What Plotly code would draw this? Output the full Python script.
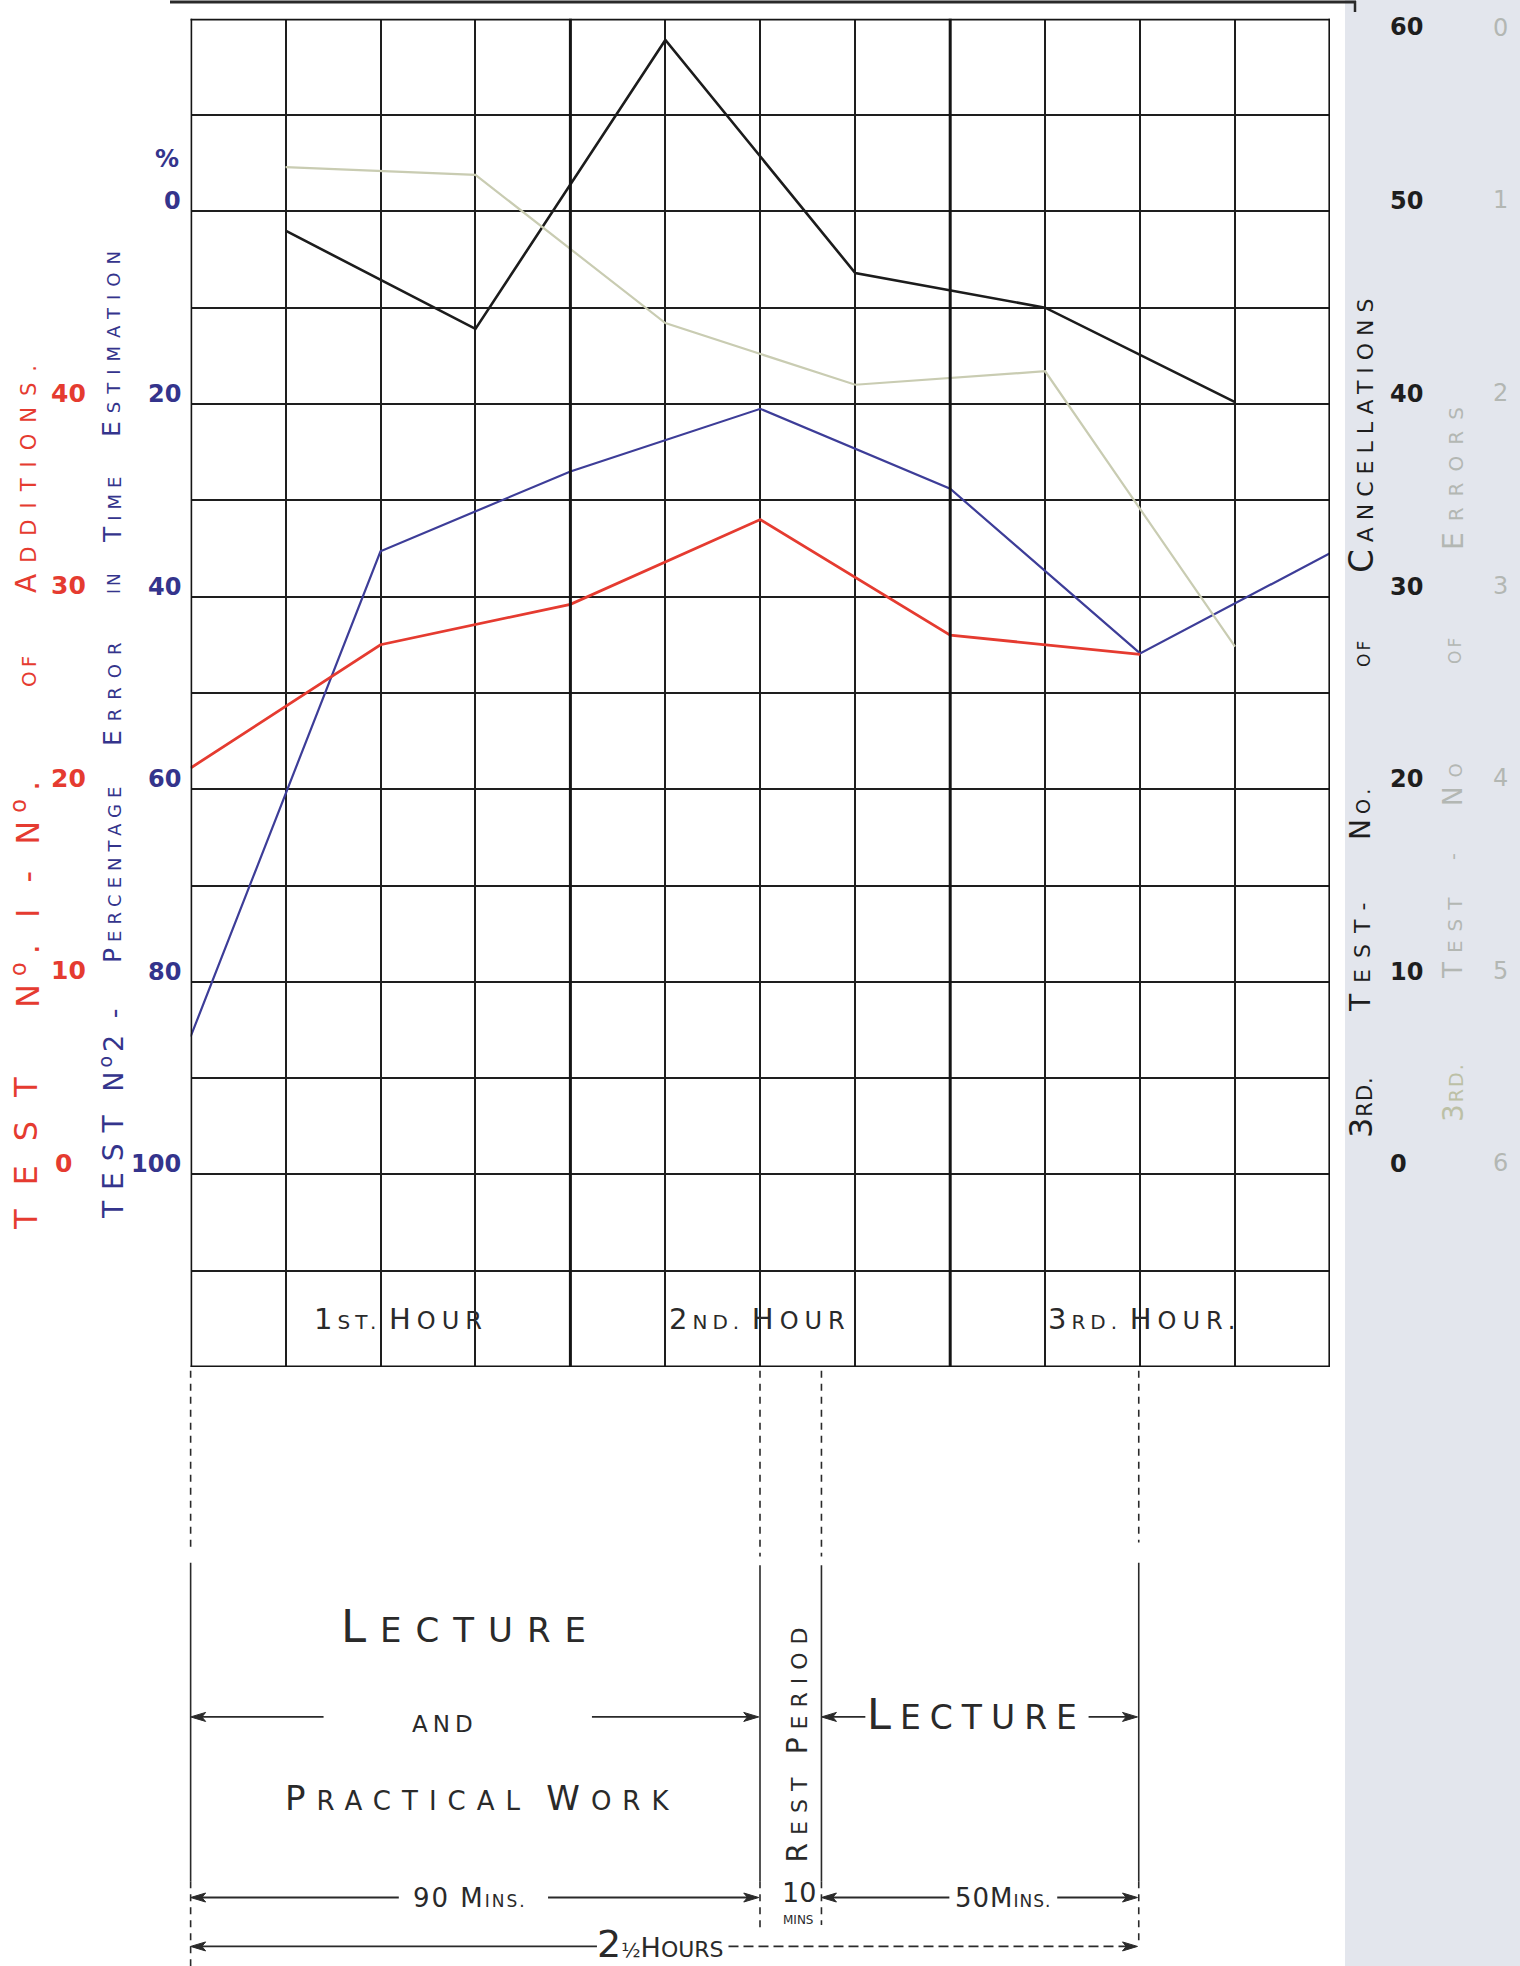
import plotly.graph_objects as go

W, H = 1520, 1966

# ---------------- data ----------------
# x positions are in grid columns (12 columns across the 2 1/2 hours)
cols_test1 = [0, 2, 4, 6, 8, 10]
test1_additions = [21.1, 27.5, 29.6, 34.0, 28.0, 27.0]

cols_test2 = [0, 2, 4, 6, 8, 10, 12]
test2_pct_error = [85.7, 35.3, 27.0, 20.5, 28.8, 45.9, 35.5]

cols_test3 = [1, 3, 5, 7, 9, 11]
test3_cancellations = [49.0, 43.9, 58.9, 46.8, 45.0, 40.1]
test3_errors = [0.77, 0.81, 1.58, 1.90, 1.83, 3.26]

ticks_test1 = [0, 10, 20, 30, 40]
ticks_test2 = [0, 20, 40, 60, 80, 100]
ticks_cancel = [0, 10, 20, 30, 40, 50, 60]
ticks_errors = [0, 1, 2, 3, 4, 5, 6]

hour_cols = [2.22, 6.0, 10.05]
hour_names = [("1", "ST.", "H", "OUR"), ("2", "ND.", "H", "OUR"), ("3", "RD.", "H", "OUR.")]

# ---------------- styles ----------------
INK = "#2a2a2a"
RED = "#e53b30"
BLUE = "#34348c"
BLUE_LINE = "#3d3d98"
GREY_LINE = "#c9ccb2"
GREY_TXT = "#b3b7b3"
STRIP = "#e3e6ed"
FONT = "DejaVu Sans"

# figure-pixel helpers (sketch measured in a 1212 x 1568 view and in 1520 x 1966 pixels)
def P(xd, yd):
    return xd / 1212.0, 1 - yd / 1567.6


def Q(xo, yo):
    return xo / W, 1 - yo / H


X0, X1 = 190.6 / W, 1330.0 / W
Y0, Y1 = 1 - 1367.0 / H, 1 - 18.8 / H


def sc(word, big, small, ls=0, big_n=1):
    st = f"letter-spacing:{ls}px;" if ls else ""
    a, b = word[:big_n], word[big_n:]
    s = f"<span style='font-size:{big}px;{st}'>{a}</span>"
    if b:
        s += f"<span style='font-size:{small}px;{st}'>{b}</span>"
    return s


annotations = []
shapes = []


def text_at(text, x, y, size=24, color=INK, angle=0, xanchor="center", yanchor="middle", bold=False):
    annotations.append(dict(text=text, x=x, y=y, xref="paper", yref="paper", showarrow=False,
                            textangle=angle, xanchor=xanchor, yanchor=yanchor,
                            font=dict(family=FONT, size=size, color=color,
                                      weight="bold" if bold else "normal")))


def arrow(xh, yh, xt, yt, dash="solid"):
    """horizontal arrow: head at (xh, yh), tail at (xt, yt), sketch units"""
    hx, hy = P(xh, yh)
    tx, ty = P(xt, yt)
    sgn = 1 if xt > xh else -1
    L, hw = 15.0 / W, 4.5 / H
    shapes.append(dict(type="line", xref="paper", yref="paper", x0=hx + sgn * L * 0.6, x1=tx,
                       y0=hy, y1=ty, line=dict(color=INK, width=1.8, dash=dash)))
    path = (f"M {hx} {hy} L {hx + sgn * L} {hy + hw} L {hx + sgn * L * 0.75} {hy} "
            f"L {hx + sgn * L} {hy - hw} Z")
    shapes.append(dict(type="path", xref="paper", yref="paper", path=path,
                       fillcolor=INK, line=dict(color=INK, width=1)))


fig = go.Figure()

fig.add_trace(go.Scatter(x=cols_test3, y=test3_errors, yaxis="y4", mode="lines",
                         line=dict(color=GREY_LINE, width=2.2), name="3rd Test - No. of Errors"))
fig.add_trace(go.Scatter(x=cols_test3, y=test3_cancellations, yaxis="y3", mode="lines",
                         line=dict(color="#1c1c1c", width=2.6), name="3rd Test - No. of Cancellations"))
fig.add_trace(go.Scatter(x=cols_test2, y=test2_pct_error, yaxis="y", mode="lines",
                         line=dict(color=BLUE_LINE, width=2.2), name="Test No 2 - % Error"))
fig.add_trace(go.Scatter(x=cols_test1, y=test1_additions, yaxis="y2", mode="lines",
                         line=dict(color=RED, width=2.8), name="Test No 1 - No. of Additions"))

# ---------------- tick labels (placed on each test's own scale) ----------------
for v in ticks_test2:
    annotations.append(dict(text=str(v), x=183 / W, y=v, xref="paper", yref="y", showarrow=False,
                            xanchor="right", yanchor="middle", yshift=10,
                            font=dict(family=FONT, size=24, color=BLUE, weight="bold")))
for v in ticks_test1:
    annotations.append(dict(text=str(v), x=(88 if v else 74) / W, y=v, xref="paper", yref="y2",
                            showarrow=False, xanchor="right", yanchor="middle", yshift=11,
                            font=dict(family=FONT, size=25, color=RED, weight="bold")))
for v in ticks_cancel:
    annotations.append(dict(text=str(v), x=1388 / W, y=v, xref="paper", yref="y3", showarrow=False,
                            xanchor="left", yanchor="middle", yshift=(-8 if v == 60 else 10),
                            font=dict(family=FONT, size=24, color="#1e1e1e", weight="bold")))
for v in ticks_errors:
    annotations.append(dict(text=str(v), x=1500 / W, y=v, xref="paper", yref="y4", showarrow=False,
                            xanchor="center", yanchor="middle", yshift=(-9 if v == 0 else 11),
                            font=dict(family=FONT, size=24, color=GREY_TXT)))

# "%" above the 0 of test 2
text_at("%", *Q(167, 159), size=24, color=BLUE, bold=True)

# ---------------- axis titles (rotated lettering) ----------------
# Test No 1 (red)
text_at(sc("TEST", 32, 32, 24), *Q(26, 1142), color=RED, angle=-90)
text_at(f"<span style='font-size:32px;letter-spacing:8px'>N<sup>o</sup>. I - N<sup>o</sup>.</span>",
        *Q(26, 891), color=RED, angle=-90)
text_at(sc("OF", 20, 20, 4), *Q(29, 670), color=RED, angle=-90)
text_at(sc("ADDITIONS.", 28, 21, 11), *Q(26, 474), color=RED, angle=-90)

# Test No 2 (blue)
text_at(sc("TEST", 28, 28, 11) + f"<span style='font-size:27px;letter-spacing:4px'> N<sup>o</sup>2 -</span>",
        *Q(112, 1111), color=BLUE, angle=-90)
text_at(sc("PERCENTAGE", 25, 18, 6), *Q(112, 872), color=BLUE, angle=-90)
text_at(sc("ERROR", 25, 18, 9), *Q(112, 689), color=BLUE, angle=-90)
text_at(sc("IN", 17, 17, 3), *Q(114, 582), color=BLUE, angle=-90)
text_at(sc("TIME", 25, 18, 6), *Q(112, 506), color=BLUE, angle=-90)
text_at(sc("ESTIMATION", 25, 18, 8), *Q(112, 340), color=BLUE, angle=-90)

# 3rd test - cancellations (black)
text_at(sc("3RD.", 32, 21, 1), *Q(1361, 1107), color="#1e1e1e", angle=-90)
text_at(sc("TEST-", 28, 22, 11), *Q(1361, 952), color="#1e1e1e", angle=-90)
text_at(sc("NO.", 28, 19, 5), *Q(1361, 812), color="#1e1e1e", angle=-90)
text_at(sc("OF", 17, 17, 3), *Q(1364, 653), color="#1e1e1e", angle=-90)
text_at(sc("CANCELLATIONS", 34, 22, 7), *Q(1361, 432), color="#1e1e1e", angle=-90)

# 3rd test - errors (pale)
text_at(sc("3RD.", 28, 19, 2), *Q(1453, 1092), color="#bcc0a6", angle=-90)
text_at(sc("TEST", 26, 20, 9), *Q(1453, 934), color=GREY_TXT, angle=-90)
text_at("-", *Q(1453, 857), size=19, color=GREY_TXT, angle=-90)
text_at(sc("NO", 26, 18, 9), *Q(1453, 780), color=GREY_TXT, angle=-90)
text_at(sc("OF", 17, 17, 3), *Q(1455, 650), color=GREY_TXT, angle=-90)
text_at(sc("ERRORS", 28, 20, 11), *Q(1453, 473), color=GREY_TXT, angle=-90)

# ---------------- hour labels in the bottom row ----------------
for c, (n, suf, h, rest) in zip(hour_cols, hour_names):
    annotations.append(dict(
        text=(f"<span style='font-size:29px;letter-spacing:5px'>{n}</span>"
              f"<span style='font-size:20px;letter-spacing:5px'>{suf}</span> "
              f"<span style='font-size:29px;letter-spacing:6px'>{h}</span>"
              f"<span style='font-size:24px;letter-spacing:6px'>{rest}</span>"),
        x=c, y=115, xref="x", yref="y", showarrow=False, xanchor="center", yanchor="middle",
        font=dict(family=FONT, size=24, color=INK)))

# ---------------- time-line annotations under the chart ----------------
text_at(sc("LECTURE", 45, 34, 14), *P(375, 1297))
text_at(sc("AND", 23, 23, 5), *P(355, 1375))
text_at(sc("PRACTICAL", 34, 26, 11) + "  " + sc("WORK", 34, 26, 11), *P(384, 1434))
text_at(sc("LECTURE", 43, 33, 9), *P(779, 1367))
text_at(sc("REST", 28, 22, 8) + "  " + sc("PERIOD", 28, 22, 8), *P(636, 1388), angle=-90)
text_at("<span style='font-size:26px;letter-spacing:2px'>90 M</span>"
        "<span style='font-size:17px;letter-spacing:2px'>INS.</span>", *P(375, 1513))
text_at("<span style='font-size:27px'>10</span>", *P(637, 1509))
text_at("<span style='font-size:12px'>MINS</span>", *P(637, 1531))
text_at("<span style='font-size:26px;letter-spacing:1px'>50M</span>"
        "<span style='font-size:17px;letter-spacing:1px'>INS.</span>", *P(800, 1513))
text_at("<span style='font-size:38px'>2</span><span style='font-size:20px'>½</span>"
        "<span style='font-size:27px'>H</span><span style='font-size:22px'>OURS</span>", *P(527, 1550))

arrow(152, 1369, 258, 1369)
arrow(605, 1369, 472, 1369)
arrow(655, 1369, 690, 1369)
arrow(907, 1369, 868, 1369)
arrow(152, 1513, 318, 1513)
arrow(605, 1513, 437, 1513)
arrow(655, 1513, 757, 1513)
arrow(907, 1513, 843, 1513)
arrow(152, 1552, 476, 1552)
arrow(907, 1552, 578, 1552, dash="10px,5px")

# pale strip of paper on the right
shapes.append(dict(type="rect", xref="paper", yref="paper", x0=1345 / W, x1=1.0, y0=0, y1=1,
                   fillcolor=STRIP, line=dict(width=0), layer="below"))
# frame line at the very top
shapes.append(dict(type="line", xref="paper", yref="paper", x0=170 / W, x1=1356 / W,
                   y0=1 - 2 / H, y1=1 - 2 / H, line=dict(color=INK, width=3)))
shapes.append(dict(type="line", xref="paper", yref="paper", x0=1355 / W, x1=1355 / W,
                   y0=1 - 1 / H, y1=1 - 12 / H, line=dict(color=INK, width=2.5)))
# heavy hour lines and chart border
for c, wdt in [(0, 3.2), (4, 3.0), (8, 3.0), (12, 3.2)]:
    shapes.append(dict(type="line", xref="x", yref="paper", x0=c, x1=c, y0=Y0, y1=Y1,
                       line=dict(color="#151515", width=wdt)))
for v in (-20, 120):
    shapes.append(dict(type="line", xref="paper", yref="y", x0=X0, x1=X1, y0=v, y1=v,
                       line=dict(color="#151515", width=3.2)))
# dashed / solid period markers below the chart
markers = [(152, 1237, 1246, 1568), (606, 1241, 1248, 1538), (655, 1241, 1248, 1535), (908, 1230, 1246, 1550)]
for xd, d1, s0, d2 in markers:
    xp = xd / 1212.0
    for ya, yb, dash in [(1093, d1, "7px,6px"), (s0, 1500, "solid"), (1500, d2, "7px,6px")]:
        shapes.append(dict(type="line", xref="paper", yref="paper", x0=xp, x1=xp,
                           y0=1 - ya / 1567.6, y1=1 - yb / 1567.6,
                           line=dict(color=INK, width=1.6, dash=dash)))

grid_vals = list(range(-20, 121, 10))
fig.update_layout(
    width=W, height=H, margin=dict(l=0, r=0, t=0, b=0),
    paper_bgcolor="white", plot_bgcolor="white", showlegend=False,
    xaxis=dict(domain=[X0, X1], range=[0, 12], tickvals=list(range(13)), showticklabels=False,
               showgrid=True, gridcolor="#1e1e1e", gridwidth=1.7, zeroline=False, ticks="",
               showline=False, fixedrange=True),
    yaxis=dict(domain=[Y0, Y1], range=[120, -20], tickvals=grid_vals, showticklabels=False,
               showgrid=True, gridcolor="#1e1e1e", gridwidth=1.7, zeroline=False, ticks="",
               showline=False),
    yaxis2=dict(overlaying="y", range=[-10, 60], visible=False),
    yaxis3=dict(overlaying="y", range=[-10, 60], visible=False),
    yaxis4=dict(overlaying="y", range=[7, 0], visible=False),
    annotations=annotations, shapes=shapes,
)

fig.write_html("out.html", config={"displayModeBar": False},
               post_script="document.body.style.margin='0px';")
